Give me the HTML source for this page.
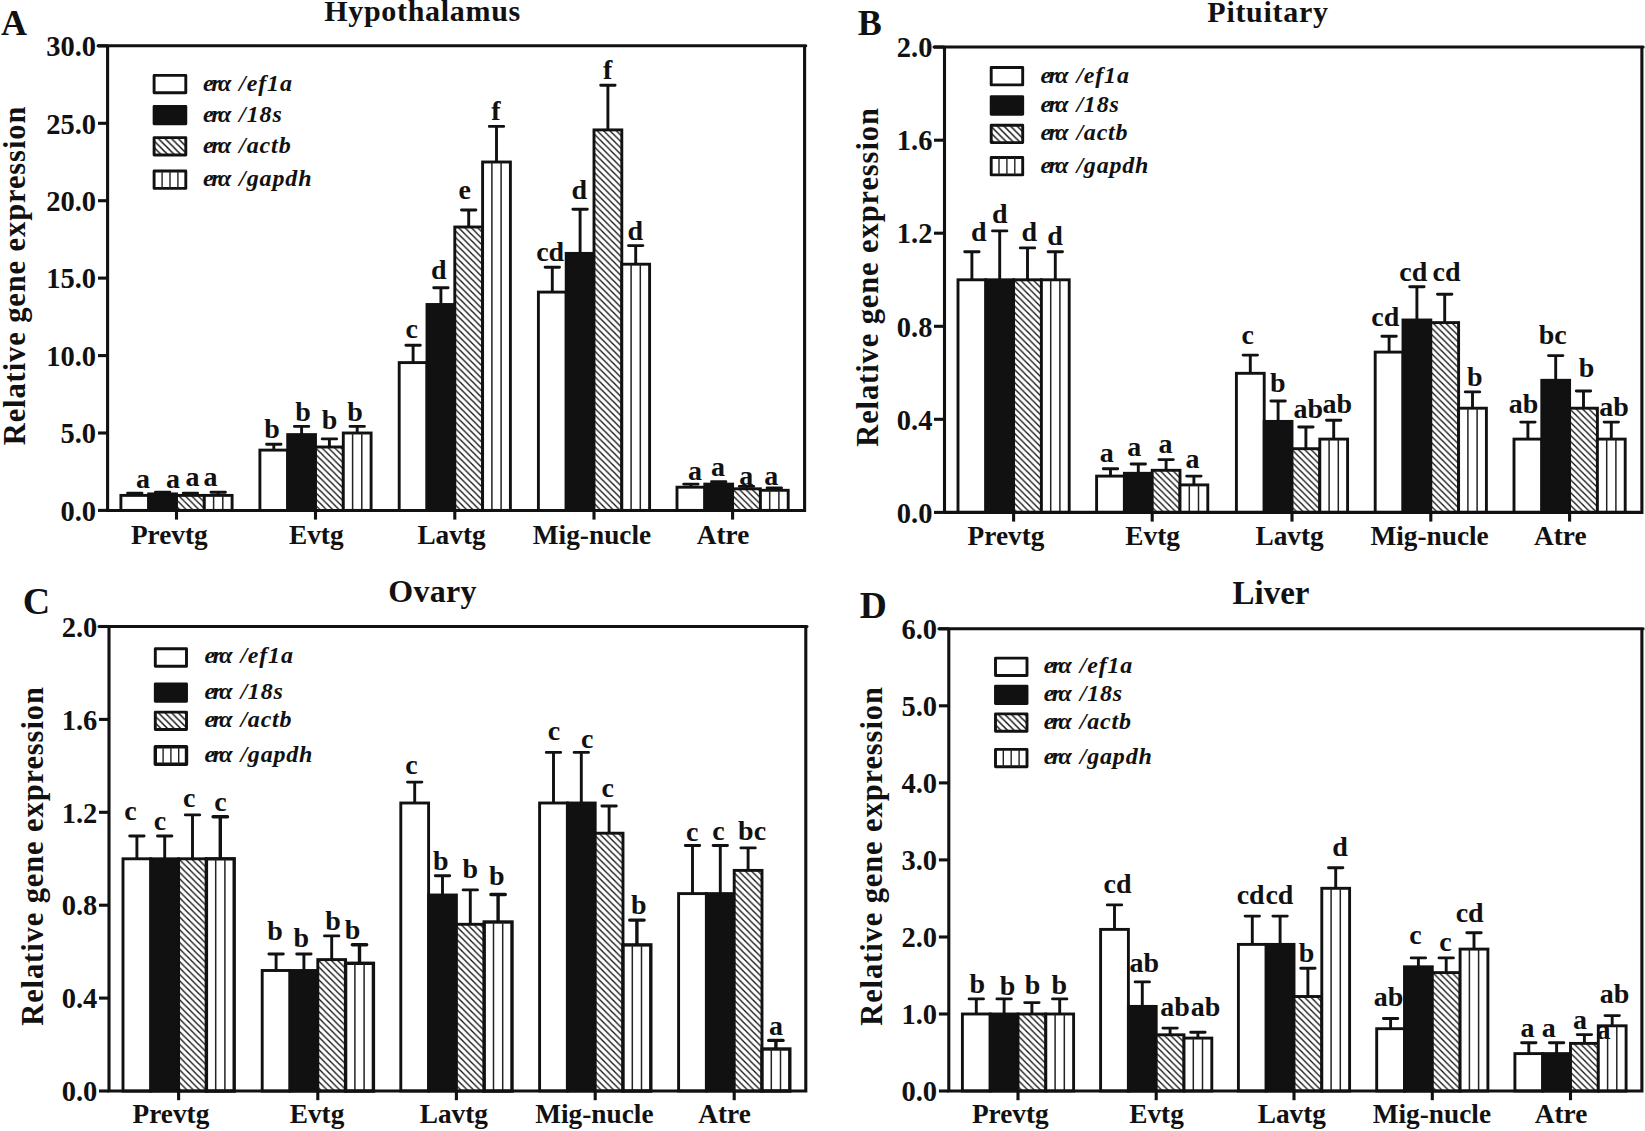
<!DOCTYPE html>
<html><head><meta charset="utf-8"><title>Relative gene expression</title>
<style>html,body{margin:0;padding:0;background:#fff}svg{display:block}</style></head>
<body>
<svg width="1645" height="1131" viewBox="0 0 1645 1131" font-family='"Liberation Serif",serif' font-weight="bold" fill="#111">
<defs>
<pattern id="hat" patternUnits="userSpaceOnUse" width="6.37" height="6.37" patternTransform="translate(1.5 0)"><rect width="6.37" height="6.37" fill="#fff"/><path d="M-6.37,-6.37 L12.74,12.74 M-6.37,0 L6.37,12.74 M0,-6.37 L12.74,6.37" stroke="#111" stroke-width="1.3" fill="none"/></pattern>
<pattern id="hatL" patternUnits="userSpaceOnUse" width="6.6" height="6.6"><rect width="6.6" height="6.6" fill="#fff"/><path d="M-6.6,-6.6 L13.2,13.2 M-6.6,0 L6.6,13.2 M0,-6.6 L13.2,6.6" stroke="#111" stroke-width="1.5" fill="none"/></pattern>
</defs>
<rect width="1645" height="1131" fill="#fff"/>
<g id="panelA">
<path d="M134.8,495.4 V493.1 M127.6,493.1 H142.0" stroke="#111" stroke-width="2.9" stroke-linecap="round" fill="none"/>
<rect x="120.9" y="495.4" width="27.8" height="15.0" fill="#fff" stroke="#111" stroke-width="2.9"/>
<path d="M162.6,493.9 V492.3 M155.4,492.3 H169.8" stroke="#111" stroke-width="2.9" stroke-linecap="round" fill="none"/>
<rect x="148.7" y="493.9" width="27.8" height="16.6" fill="#111" stroke="#111" stroke-width="2.9"/>
<path d="M190.4,495.4 V493.1 M183.2,493.1 H197.6" stroke="#111" stroke-width="2.9" stroke-linecap="round" fill="none"/>
<rect x="176.5" y="495.4" width="27.8" height="15.0" fill="url(#hat)" stroke="#111" stroke-width="2.9"/>
<path d="M218.2,495.4 V492.3 M211.0,492.3 H225.4" stroke="#111" stroke-width="2.9" stroke-linecap="round" fill="none"/>
<rect x="204.3" y="495.4" width="27.8" height="15.0" fill="#fff" stroke="#111" stroke-width="2.9"/>
<path d="M213.6,495.4 V510.4" stroke="#222" stroke-width="1.5"/>
<path d="M222.8,495.4 V510.4" stroke="#222" stroke-width="1.5"/>
<path d="M273.8,450.1 V444.3 M266.6,444.3 H281.0" stroke="#111" stroke-width="2.9" stroke-linecap="round" fill="none"/>
<rect x="259.9" y="450.1" width="27.8" height="60.4" fill="#fff" stroke="#111" stroke-width="2.9"/>
<path d="M301.6,434.6 V426.4 M294.4,426.4 H308.8" stroke="#111" stroke-width="2.9" stroke-linecap="round" fill="none"/>
<rect x="287.7" y="434.6" width="27.8" height="75.9" fill="#111" stroke="#111" stroke-width="2.9"/>
<path d="M329.4,447.0 V438.9 M322.2,438.9 H336.6" stroke="#111" stroke-width="2.9" stroke-linecap="round" fill="none"/>
<rect x="315.5" y="447.0" width="27.8" height="63.5" fill="url(#hat)" stroke="#111" stroke-width="2.9"/>
<path d="M357.2,433.0 V426.4 M350.0,426.4 H364.4" stroke="#111" stroke-width="2.9" stroke-linecap="round" fill="none"/>
<rect x="343.3" y="433.0" width="27.8" height="77.4" fill="#fff" stroke="#111" stroke-width="2.9"/>
<path d="M352.6,433.0 V510.4" stroke="#222" stroke-width="1.5"/>
<path d="M361.8,433.0 V510.4" stroke="#222" stroke-width="1.5"/>
<path d="M413.1,362.6 V345.2 M405.9,345.2 H420.3" stroke="#111" stroke-width="2.9" stroke-linecap="round" fill="none"/>
<rect x="399.2" y="362.6" width="27.8" height="147.9" fill="#fff" stroke="#111" stroke-width="2.9"/>
<path d="M440.9,304.5 V287.8 M433.7,287.8 H448.1" stroke="#111" stroke-width="2.9" stroke-linecap="round" fill="none"/>
<rect x="427.0" y="304.5" width="27.8" height="206.0" fill="#111" stroke="#111" stroke-width="2.9"/>
<path d="M468.7,227.0 V210.0 M461.5,210.0 H475.9" stroke="#111" stroke-width="2.9" stroke-linecap="round" fill="none"/>
<rect x="454.8" y="227.0" width="27.8" height="283.4" fill="url(#hat)" stroke="#111" stroke-width="2.9"/>
<path d="M496.5,162.0 V126.4 M489.3,126.4 H503.7" stroke="#111" stroke-width="2.9" stroke-linecap="round" fill="none"/>
<rect x="482.6" y="162.0" width="27.8" height="348.4" fill="#fff" stroke="#111" stroke-width="2.9"/>
<path d="M491.9,162.0 V510.4" stroke="#222" stroke-width="1.5"/>
<path d="M501.1,162.0 V510.4" stroke="#222" stroke-width="1.5"/>
<path d="M552.3,292.1 V267.3 M545.1,267.3 H559.5" stroke="#111" stroke-width="2.9" stroke-linecap="round" fill="none"/>
<rect x="538.4" y="292.1" width="27.8" height="218.4" fill="#fff" stroke="#111" stroke-width="2.9"/>
<path d="M580.1,253.4 V209.2 M572.9,209.2 H587.3" stroke="#111" stroke-width="2.9" stroke-linecap="round" fill="none"/>
<rect x="566.2" y="253.4" width="27.8" height="257.1" fill="#111" stroke="#111" stroke-width="2.9"/>
<path d="M607.9,129.9 V85.3 M600.7,85.3 H615.1" stroke="#111" stroke-width="2.9" stroke-linecap="round" fill="none"/>
<rect x="594.0" y="129.9" width="27.8" height="380.5" fill="url(#hat)" stroke="#111" stroke-width="2.9"/>
<path d="M635.7,264.2 V245.6 M628.5,245.6 H642.9" stroke="#111" stroke-width="2.9" stroke-linecap="round" fill="none"/>
<rect x="621.8" y="264.2" width="27.8" height="246.2" fill="#fff" stroke="#111" stroke-width="2.9"/>
<path d="M631.1,264.2 V510.4" stroke="#222" stroke-width="1.5"/>
<path d="M640.3,264.2 V510.4" stroke="#222" stroke-width="1.5"/>
<path d="M690.9,487.2 V484.1 M683.7,484.1 H698.1" stroke="#111" stroke-width="2.9" stroke-linecap="round" fill="none"/>
<rect x="677.0" y="487.2" width="27.8" height="23.2" fill="#fff" stroke="#111" stroke-width="2.9"/>
<path d="M718.7,484.1 V481.8 M711.5,481.8 H725.9" stroke="#111" stroke-width="2.9" stroke-linecap="round" fill="none"/>
<rect x="704.8" y="484.1" width="27.8" height="26.3" fill="#111" stroke="#111" stroke-width="2.9"/>
<path d="M746.5,488.8 V486.4 M739.3,486.4 H753.7" stroke="#111" stroke-width="2.9" stroke-linecap="round" fill="none"/>
<rect x="732.6" y="488.8" width="27.8" height="21.7" fill="url(#hat)" stroke="#111" stroke-width="2.9"/>
<path d="M774.3,490.3 V488.0 M767.1,488.0 H781.5" stroke="#111" stroke-width="2.9" stroke-linecap="round" fill="none"/>
<rect x="760.4" y="490.3" width="27.8" height="20.1" fill="#fff" stroke="#111" stroke-width="2.9"/>
<path d="M769.7,490.3 V510.4" stroke="#222" stroke-width="1.5"/>
<path d="M778.9,490.3 V510.4" stroke="#222" stroke-width="1.5"/>
<text x="143.0" y="487.5" font-size="28" text-anchor="middle">a</text>
<text x="173.0" y="488.0" font-size="28" text-anchor="middle">a</text>
<text x="192.5" y="486.0" font-size="28" text-anchor="middle">a</text>
<text x="210.5" y="486.0" font-size="28" text-anchor="middle">a</text>
<text x="272.0" y="438.0" font-size="28" text-anchor="middle">b</text>
<text x="303.0" y="421.3" font-size="28" text-anchor="middle">b</text>
<text x="329.5" y="429.3" font-size="28" text-anchor="middle">b</text>
<text x="355.0" y="421.3" font-size="28" text-anchor="middle">b</text>
<text x="411.8" y="338.2" font-size="28" text-anchor="middle">c</text>
<text x="438.7" y="278.7" font-size="28" text-anchor="middle">d</text>
<text x="464.8" y="199.3" font-size="28" text-anchor="middle">e</text>
<text x="495.8" y="119.8" font-size="28" text-anchor="middle">f</text>
<text x="550.2" y="261.2" font-size="28" text-anchor="middle">cd</text>
<text x="579.3" y="199.3" font-size="28" text-anchor="middle">d</text>
<text x="607.6" y="78.6" font-size="28" text-anchor="middle">f</text>
<text x="635.3" y="239.7" font-size="28" text-anchor="middle">d</text>
<text x="695.1" y="479.6" font-size="28" text-anchor="middle">a</text>
<text x="718.0" y="476.4" font-size="28" text-anchor="middle">a</text>
<text x="746.3" y="484.5" font-size="28" text-anchor="middle">a</text>
<text x="771.3" y="484.5" font-size="28" text-anchor="middle">a</text>
<path d="M107.6,45.85 V510.45 H804.6 V45.85" fill="none" stroke="#111" stroke-width="3.1" stroke-linejoin="miter"/>
<path d="M98.0,45.85 H805.8" fill="none" stroke="#111" stroke-width="3.0" stroke-linecap="round"/>
<path d="M98.0,510.4 H107.6" stroke="#111" stroke-width="3.1"/>
<text x="96" y="520.6" font-size="28.5" text-anchor="end">0.0</text>
<path d="M98.0,433.0 H107.6" stroke="#111" stroke-width="3.1"/>
<text x="96" y="443.2" font-size="28.5" text-anchor="end">5.0</text>
<path d="M98.0,355.6 H107.6" stroke="#111" stroke-width="3.1"/>
<text x="96" y="365.8" font-size="28.5" text-anchor="end">10.0</text>
<path d="M98.0,278.1 H107.6" stroke="#111" stroke-width="3.1"/>
<text x="96" y="288.3" font-size="28.5" text-anchor="end">15.0</text>
<path d="M98.0,200.7 H107.6" stroke="#111" stroke-width="3.1"/>
<text x="96" y="210.9" font-size="28.5" text-anchor="end">20.0</text>
<path d="M98.0,123.3 H107.6" stroke="#111" stroke-width="3.1"/>
<text x="96" y="133.5" font-size="28.5" text-anchor="end">25.0</text>
<path d="M98.0,45.9 H107.6" stroke="#111" stroke-width="3.1"/>
<text x="96" y="56.1" font-size="28.5" text-anchor="end">30.0</text>
<path d="M176.5,510.45 V519.6" stroke="#111" stroke-width="3.1"/>
<text x="169.3" y="543.6" font-size="27.3" text-anchor="middle">Prevtg</text>
<path d="M315.5,510.45 V519.6" stroke="#111" stroke-width="3.1"/>
<text x="316.3" y="543.6" font-size="27.3" text-anchor="middle">Evtg</text>
<path d="M454.8,510.45 V519.6" stroke="#111" stroke-width="3.1"/>
<text x="451.5" y="543.6" font-size="27.3" text-anchor="middle">Lavtg</text>
<path d="M594,510.45 V519.6" stroke="#111" stroke-width="3.1"/>
<text x="592" y="543.6" font-size="27.3" text-anchor="middle">Mig-nucle</text>
<path d="M732.6,510.45 V519.6" stroke="#111" stroke-width="3.1"/>
<text x="723" y="543.6" font-size="27.3" text-anchor="middle">Atre</text>
<text x="422.6" y="21.3" font-size="30" letter-spacing="0.7" text-anchor="middle" style="font-kerning:none">Hypothalamus</text>
<text x="1" y="34.7" font-size="36">A</text>
<text transform="translate(25.2,275.5) rotate(-90)" font-size="30.5" letter-spacing="0.9" text-anchor="middle">Relative gene expression</text>
<rect x="154.1" y="75.4" width="31.7" height="17.4" fill="#fff" stroke="#111" stroke-width="2.9" stroke-linejoin="round"/>
<text x="203.1" y="90.9" font-size="24" font-style="italic"><tspan letter-spacing="-2.6">erα</tspan><tspan dx="10.5" letter-spacing="0.9">/ef1a</tspan></text>
<rect x="154.1" y="106.4" width="31.7" height="17.4" fill="#111" stroke="#111" stroke-width="2.9" stroke-linejoin="round"/>
<text x="203.1" y="121.5" font-size="24" font-style="italic"><tspan letter-spacing="-2.6">erα</tspan><tspan dx="10.5" letter-spacing="0.9">/18s</tspan></text>
<rect x="154.1" y="137.6" width="31.7" height="17.4" fill="url(#hatL)" stroke="#111" stroke-width="2.9" stroke-linejoin="round"/>
<text x="203.1" y="152.6" font-size="24" font-style="italic"><tspan letter-spacing="-2.6">erα</tspan><tspan dx="10.5" letter-spacing="0.9">/actb</tspan></text>
<rect x="154.1" y="171.0" width="31.7" height="17.4" fill="#fff" stroke="#111" stroke-width="2.9" stroke-linejoin="round"/>
<path d="M162.1,171.0 v17.4" stroke="#222" stroke-width="1.4"/>
<path d="M170.0,171.0 v17.4" stroke="#222" stroke-width="1.4"/>
<path d="M177.9,171.0 v17.4" stroke="#222" stroke-width="1.4"/>
<text x="203.1" y="186.2" font-size="24" font-style="italic"><tspan letter-spacing="-2.6">erα</tspan><tspan dx="10.5" letter-spacing="0.9">/gapdh</tspan></text>
</g>
<g id="panelB">
<path d="M971.9,279.8 V251.8 M964.7,251.8 H979.1" stroke="#111" stroke-width="2.9" stroke-linecap="round" fill="none"/>
<rect x="958.0" y="279.8" width="27.8" height="232.6" fill="#fff" stroke="#111" stroke-width="2.9"/>
<path d="M999.7,279.8 V230.9 M992.5,230.9 H1006.9" stroke="#111" stroke-width="2.9" stroke-linecap="round" fill="none"/>
<rect x="985.8" y="279.8" width="27.8" height="232.6" fill="#111" stroke="#111" stroke-width="2.9"/>
<path d="M1027.5,279.8 V247.9 M1020.3,247.9 H1034.7" stroke="#111" stroke-width="2.9" stroke-linecap="round" fill="none"/>
<rect x="1013.6" y="279.8" width="27.8" height="232.6" fill="url(#hat)" stroke="#111" stroke-width="2.9"/>
<path d="M1055.3,279.8 V251.8 M1048.1,251.8 H1062.5" stroke="#111" stroke-width="2.9" stroke-linecap="round" fill="none"/>
<rect x="1041.4" y="279.8" width="27.8" height="232.6" fill="#fff" stroke="#111" stroke-width="2.9"/>
<path d="M1050.7,279.8 V512.4" stroke="#222" stroke-width="1.5"/>
<path d="M1059.9,279.8 V512.4" stroke="#222" stroke-width="1.5"/>
<path d="M1110.5,476.1 V468.7 M1103.3,468.7 H1117.7" stroke="#111" stroke-width="2.9" stroke-linecap="round" fill="none"/>
<rect x="1096.6" y="476.1" width="27.8" height="36.3" fill="#fff" stroke="#111" stroke-width="2.9"/>
<path d="M1138.3,473.3 V464.0 M1131.1,464.0 H1145.5" stroke="#111" stroke-width="2.9" stroke-linecap="round" fill="none"/>
<rect x="1124.4" y="473.3" width="27.8" height="39.1" fill="#111" stroke="#111" stroke-width="2.9"/>
<path d="M1166.1,470.3 V459.6 M1158.9,459.6 H1173.3" stroke="#111" stroke-width="2.9" stroke-linecap="round" fill="none"/>
<rect x="1152.2" y="470.3" width="27.8" height="42.1" fill="url(#hat)" stroke="#111" stroke-width="2.9"/>
<path d="M1193.9,484.9 V476.1 M1186.7,476.1 H1201.1" stroke="#111" stroke-width="2.9" stroke-linecap="round" fill="none"/>
<rect x="1180.0" y="484.9" width="27.8" height="27.5" fill="#fff" stroke="#111" stroke-width="2.9"/>
<path d="M1189.3,484.9 V512.4" stroke="#222" stroke-width="1.5"/>
<path d="M1198.5,484.9 V512.4" stroke="#222" stroke-width="1.5"/>
<path d="M1250.3,373.3 V355.1 M1243.1,355.1 H1257.5" stroke="#111" stroke-width="2.9" stroke-linecap="round" fill="none"/>
<rect x="1236.4" y="373.3" width="27.8" height="139.1" fill="#fff" stroke="#111" stroke-width="2.9"/>
<path d="M1278.1,421.4 V401.0 M1270.9,401.0 H1285.3" stroke="#111" stroke-width="2.9" stroke-linecap="round" fill="none"/>
<rect x="1264.2" y="421.4" width="27.8" height="91.0" fill="#111" stroke="#111" stroke-width="2.9"/>
<path d="M1305.9,448.7 V427.0 M1298.7,427.0 H1313.1" stroke="#111" stroke-width="2.9" stroke-linecap="round" fill="none"/>
<rect x="1292.0" y="448.7" width="27.8" height="63.7" fill="url(#hat)" stroke="#111" stroke-width="2.9"/>
<path d="M1333.7,439.1 V420.3 M1326.5,420.3 H1340.9" stroke="#111" stroke-width="2.9" stroke-linecap="round" fill="none"/>
<rect x="1319.8" y="439.1" width="27.8" height="73.3" fill="#fff" stroke="#111" stroke-width="2.9"/>
<path d="M1329.1,439.1 V512.4" stroke="#222" stroke-width="1.5"/>
<path d="M1338.3,439.1 V512.4" stroke="#222" stroke-width="1.5"/>
<path d="M1389.1,352.1 V336.3 M1381.9,336.3 H1396.3" stroke="#111" stroke-width="2.9" stroke-linecap="round" fill="none"/>
<rect x="1375.2" y="352.1" width="27.8" height="160.3" fill="#fff" stroke="#111" stroke-width="2.9"/>
<path d="M1416.9,320.0 V286.7 M1409.7,286.7 H1424.1" stroke="#111" stroke-width="2.9" stroke-linecap="round" fill="none"/>
<rect x="1403.0" y="320.0" width="27.8" height="192.4" fill="#111" stroke="#111" stroke-width="2.9"/>
<path d="M1444.7,322.6 V294.2 M1437.5,294.2 H1451.9" stroke="#111" stroke-width="2.9" stroke-linecap="round" fill="none"/>
<rect x="1430.8" y="322.6" width="27.8" height="189.8" fill="url(#hat)" stroke="#111" stroke-width="2.9"/>
<path d="M1472.5,408.2 V391.9 M1465.3,391.9 H1479.7" stroke="#111" stroke-width="2.9" stroke-linecap="round" fill="none"/>
<rect x="1458.6" y="408.2" width="27.8" height="104.2" fill="#fff" stroke="#111" stroke-width="2.9"/>
<path d="M1467.9,408.2 V512.4" stroke="#222" stroke-width="1.5"/>
<path d="M1477.1,408.2 V512.4" stroke="#222" stroke-width="1.5"/>
<path d="M1527.9,439.1 V422.1 M1520.7,422.1 H1535.1" stroke="#111" stroke-width="2.9" stroke-linecap="round" fill="none"/>
<rect x="1514.0" y="439.1" width="27.8" height="73.3" fill="#fff" stroke="#111" stroke-width="2.9"/>
<path d="M1555.7,380.3 V355.6 M1548.5,355.6 H1562.9" stroke="#111" stroke-width="2.9" stroke-linecap="round" fill="none"/>
<rect x="1541.8" y="380.3" width="27.8" height="132.1" fill="#111" stroke="#111" stroke-width="2.9"/>
<path d="M1583.5,408.2 V391.0 M1576.3,391.0 H1590.7" stroke="#111" stroke-width="2.9" stroke-linecap="round" fill="none"/>
<rect x="1569.6" y="408.2" width="27.8" height="104.2" fill="url(#hat)" stroke="#111" stroke-width="2.9"/>
<path d="M1611.3,439.1 V422.1 M1604.1,422.1 H1618.5" stroke="#111" stroke-width="2.9" stroke-linecap="round" fill="none"/>
<rect x="1597.4" y="439.1" width="27.8" height="73.3" fill="#fff" stroke="#111" stroke-width="2.9"/>
<path d="M1606.7,439.1 V512.4" stroke="#222" stroke-width="1.5"/>
<path d="M1615.9,439.1 V512.4" stroke="#222" stroke-width="1.5"/>
<text x="978.8" y="241.3" font-size="28" text-anchor="middle">d</text>
<text x="999.8" y="222.5" font-size="28" text-anchor="middle">d</text>
<text x="1029.3" y="241.3" font-size="28" text-anchor="middle">d</text>
<text x="1055.0" y="245.0" font-size="28" text-anchor="middle">d</text>
<text x="1106.8" y="461.8" font-size="28" text-anchor="middle">a</text>
<text x="1134.3" y="455.5" font-size="28" text-anchor="middle">a</text>
<text x="1165.5" y="452.5" font-size="28" text-anchor="middle">a</text>
<text x="1192.5" y="467.5" font-size="28" text-anchor="middle">a</text>
<text x="1247.8" y="344.3" font-size="28" text-anchor="middle">c</text>
<text x="1277.8" y="391.8" font-size="28" text-anchor="middle">b</text>
<text x="1308.3" y="418.0" font-size="28" text-anchor="middle">ab</text>
<text x="1337.3" y="413.0" font-size="28" text-anchor="middle">ab</text>
<text x="1385.3" y="325.5" font-size="28" text-anchor="middle">cd</text>
<text x="1413.3" y="281.3" font-size="28" text-anchor="middle">cd</text>
<text x="1446.5" y="281.3" font-size="28" text-anchor="middle">cd</text>
<text x="1474.8" y="386.0" font-size="28" text-anchor="middle">b</text>
<text x="1523.5" y="413.0" font-size="28" text-anchor="middle">ab</text>
<text x="1552.8" y="343.8" font-size="28" text-anchor="middle">bc</text>
<text x="1586.5" y="376.8" font-size="28" text-anchor="middle">b</text>
<text x="1614.0" y="415.5" font-size="28" text-anchor="middle">ab</text>
<path d="M944.5,47.1 V512.4 H1641.9 V47.1" fill="none" stroke="#111" stroke-width="3.1" stroke-linejoin="miter"/>
<path d="M934.0,47.1 H1643.1" fill="none" stroke="#111" stroke-width="3.0" stroke-linecap="round"/>
<path d="M934.0,512.4 H944.5" stroke="#111" stroke-width="3.1"/>
<text x="932.4" y="522.6" font-size="28.5" text-anchor="end">0.0</text>
<path d="M934.0,419.3 H944.5" stroke="#111" stroke-width="3.1"/>
<text x="932.4" y="429.5" font-size="28.5" text-anchor="end">0.4</text>
<path d="M934.0,326.3 H944.5" stroke="#111" stroke-width="3.1"/>
<text x="932.4" y="336.5" font-size="28.5" text-anchor="end">0.8</text>
<path d="M934.0,233.2 H944.5" stroke="#111" stroke-width="3.1"/>
<text x="932.4" y="243.4" font-size="28.5" text-anchor="end">1.2</text>
<path d="M934.0,140.2 H944.5" stroke="#111" stroke-width="3.1"/>
<text x="932.4" y="150.4" font-size="28.5" text-anchor="end">1.6</text>
<path d="M934.0,47.1 H944.5" stroke="#111" stroke-width="3.1"/>
<text x="932.4" y="57.3" font-size="28.5" text-anchor="end">2.0</text>
<path d="M1013.6,512.4 V521.6" stroke="#111" stroke-width="3.1"/>
<text x="1006" y="545.2" font-size="27.3" text-anchor="middle">Prevtg</text>
<path d="M1152.2,512.4 V521.6" stroke="#111" stroke-width="3.1"/>
<text x="1152.6" y="545.2" font-size="27.3" text-anchor="middle">Evtg</text>
<path d="M1292,512.4 V521.6" stroke="#111" stroke-width="3.1"/>
<text x="1289.6" y="545.2" font-size="27.3" text-anchor="middle">Lavtg</text>
<path d="M1430.8,512.4 V521.6" stroke="#111" stroke-width="3.1"/>
<text x="1429.6" y="545.2" font-size="27.3" text-anchor="middle">Mig-nucle</text>
<path d="M1569.6,512.4 V521.6" stroke="#111" stroke-width="3.1"/>
<text x="1560.3" y="545.2" font-size="27.3" text-anchor="middle">Atre</text>
<text x="1268" y="22.4" font-size="30" letter-spacing="0.7" text-anchor="middle" style="font-kerning:none">Pituitary</text>
<text x="857.7" y="34.9" font-size="36">B</text>
<text transform="translate(877.5,277) rotate(-90)" font-size="30.5" letter-spacing="0.9" text-anchor="middle">Relative gene expression</text>
<rect x="991.2" y="67.5" width="31.5" height="17.4" fill="#fff" stroke="#111" stroke-width="2.9" stroke-linejoin="round"/>
<text x="1040.4" y="82.5" font-size="24" font-style="italic"><tspan letter-spacing="-2.6">erα</tspan><tspan dx="10.5" letter-spacing="0.8">/ef1a</tspan></text>
<rect x="991.2" y="96.8" width="31.5" height="17.4" fill="#111" stroke="#111" stroke-width="2.9" stroke-linejoin="round"/>
<text x="1040.4" y="112" font-size="24" font-style="italic"><tspan letter-spacing="-2.6">erα</tspan><tspan dx="10.5" letter-spacing="0.8">/18s</tspan></text>
<rect x="991.2" y="125.2" width="31.5" height="17.4" fill="url(#hatL)" stroke="#111" stroke-width="2.9" stroke-linejoin="round"/>
<text x="1040.4" y="140" font-size="24" font-style="italic"><tspan letter-spacing="-2.6">erα</tspan><tspan dx="10.5" letter-spacing="0.8">/actb</tspan></text>
<rect x="991.2" y="157.5" width="31.5" height="17.4" fill="#fff" stroke="#111" stroke-width="2.9" stroke-linejoin="round"/>
<path d="M999.0,157.5 v17.4" stroke="#222" stroke-width="1.4"/>
<path d="M1006.9,157.5 v17.4" stroke="#222" stroke-width="1.4"/>
<path d="M1014.8,157.5 v17.4" stroke="#222" stroke-width="1.4"/>
<text x="1040.4" y="172.5" font-size="24" font-style="italic"><tspan letter-spacing="-2.6">erα</tspan><tspan dx="10.5" letter-spacing="0.8">/gapdh</tspan></text>
</g>
<g id="panelC">
<path d="M136.9,858.8 V836.0 M129.7,836.0 H144.1" stroke="#111" stroke-width="2.9" stroke-linecap="round" fill="none"/>
<rect x="123.0" y="858.8" width="27.8" height="232.3" fill="#fff" stroke="#111" stroke-width="2.9"/>
<path d="M164.7,858.8 V836.0 M157.5,836.0 H171.9" stroke="#111" stroke-width="2.9" stroke-linecap="round" fill="none"/>
<rect x="150.8" y="858.8" width="27.8" height="232.3" fill="#111" stroke="#111" stroke-width="2.9"/>
<path d="M192.5,858.8 V814.9 M185.3,814.9 H199.7" stroke="#111" stroke-width="2.9" stroke-linecap="round" fill="none"/>
<rect x="178.6" y="858.8" width="27.8" height="232.3" fill="url(#hat)" stroke="#111" stroke-width="2.9"/>
<path d="M220.3,858.8 V816.7 M213.1,816.7 H227.5" stroke="#111" stroke-width="3.4" stroke-linecap="round" fill="none"/>
<rect x="206.4" y="858.8" width="27.8" height="232.3" fill="#fff" stroke="#111" stroke-width="3.4"/>
<path d="M215.7,858.8 V1091.0" stroke="#222" stroke-width="1.5"/>
<path d="M224.9,858.8 V1091.0" stroke="#222" stroke-width="1.5"/>
<path d="M276.1,970.5 V954.0 M268.9,954.0 H283.3" stroke="#111" stroke-width="2.9" stroke-linecap="round" fill="none"/>
<rect x="262.2" y="970.5" width="27.8" height="120.6" fill="#fff" stroke="#111" stroke-width="2.9"/>
<path d="M303.9,970.5 V954.0 M296.7,954.0 H311.1" stroke="#111" stroke-width="2.9" stroke-linecap="round" fill="none"/>
<rect x="290.0" y="970.5" width="27.8" height="120.6" fill="#111" stroke="#111" stroke-width="2.9"/>
<path d="M331.7,959.6 V935.9 M324.5,935.9 H338.9" stroke="#111" stroke-width="2.9" stroke-linecap="round" fill="none"/>
<rect x="317.8" y="959.6" width="27.8" height="131.5" fill="url(#hat)" stroke="#111" stroke-width="2.9"/>
<path d="M359.5,963.3 V944.7 M352.3,944.7 H366.7" stroke="#111" stroke-width="3.4" stroke-linecap="round" fill="none"/>
<rect x="345.6" y="963.3" width="27.8" height="127.8" fill="#fff" stroke="#111" stroke-width="3.4"/>
<path d="M354.9,963.3 V1091.0" stroke="#222" stroke-width="1.5"/>
<path d="M364.1,963.3 V1091.0" stroke="#222" stroke-width="1.5"/>
<path d="M414.7,803.0 V782.1 M407.5,782.1 H421.9" stroke="#111" stroke-width="2.9" stroke-linecap="round" fill="none"/>
<rect x="400.8" y="803.0" width="27.8" height="288.0" fill="#fff" stroke="#111" stroke-width="2.9"/>
<path d="M442.5,895.0 V875.7 M435.3,875.7 H449.7" stroke="#111" stroke-width="2.9" stroke-linecap="round" fill="none"/>
<rect x="428.6" y="895.0" width="27.8" height="196.0" fill="#111" stroke="#111" stroke-width="2.9"/>
<path d="M470.3,924.3 V889.9 M463.1,889.9 H477.5" stroke="#111" stroke-width="2.9" stroke-linecap="round" fill="none"/>
<rect x="456.4" y="924.3" width="27.8" height="166.8" fill="url(#hat)" stroke="#111" stroke-width="2.9"/>
<path d="M498.1,922.0 V894.5 M490.9,894.5 H505.3" stroke="#111" stroke-width="3.4" stroke-linecap="round" fill="none"/>
<rect x="484.2" y="922.0" width="27.8" height="169.1" fill="#fff" stroke="#111" stroke-width="3.4"/>
<path d="M493.5,922.0 V1091.0" stroke="#222" stroke-width="1.5"/>
<path d="M502.7,922.0 V1091.0" stroke="#222" stroke-width="1.5"/>
<path d="M553.5,803.0 V752.4 M546.3,752.4 H560.7" stroke="#111" stroke-width="2.9" stroke-linecap="round" fill="none"/>
<rect x="539.6" y="803.0" width="27.8" height="288.0" fill="#fff" stroke="#111" stroke-width="2.9"/>
<path d="M581.3,803.0 V752.4 M574.1,752.4 H588.5" stroke="#111" stroke-width="2.9" stroke-linecap="round" fill="none"/>
<rect x="567.4" y="803.0" width="27.8" height="288.0" fill="#111" stroke="#111" stroke-width="2.9"/>
<path d="M609.1,833.2 V806.0 M601.9,806.0 H616.3" stroke="#111" stroke-width="2.9" stroke-linecap="round" fill="none"/>
<rect x="595.2" y="833.2" width="27.8" height="257.8" fill="url(#hat)" stroke="#111" stroke-width="2.9"/>
<path d="M636.9,944.9 V920.1 M629.7,920.1 H644.1" stroke="#111" stroke-width="3.4" stroke-linecap="round" fill="none"/>
<rect x="623.0" y="944.9" width="27.8" height="146.1" fill="#fff" stroke="#111" stroke-width="3.4"/>
<path d="M632.3,944.9 V1091.0" stroke="#222" stroke-width="1.5"/>
<path d="M641.5,944.9 V1091.0" stroke="#222" stroke-width="1.5"/>
<path d="M692.5,893.6 V845.5 M685.3,845.5 H699.7" stroke="#111" stroke-width="2.9" stroke-linecap="round" fill="none"/>
<rect x="678.6" y="893.6" width="27.8" height="197.4" fill="#fff" stroke="#111" stroke-width="2.9"/>
<path d="M720.3,893.6 V845.5 M713.1,845.5 H727.5" stroke="#111" stroke-width="2.9" stroke-linecap="round" fill="none"/>
<rect x="706.4" y="893.6" width="27.8" height="197.4" fill="#111" stroke="#111" stroke-width="2.9"/>
<path d="M748.1,870.4 V847.9 M740.9,847.9 H755.3" stroke="#111" stroke-width="2.9" stroke-linecap="round" fill="none"/>
<rect x="734.2" y="870.4" width="27.8" height="220.7" fill="url(#hat)" stroke="#111" stroke-width="2.9"/>
<path d="M775.9,1049.0 V1040.4 M768.7,1040.4 H783.1" stroke="#111" stroke-width="3.4" stroke-linecap="round" fill="none"/>
<rect x="762.0" y="1049.0" width="27.8" height="42.0" fill="#fff" stroke="#111" stroke-width="3.4"/>
<path d="M771.3,1049.0 V1091.0" stroke="#222" stroke-width="1.5"/>
<path d="M780.5,1049.0 V1091.0" stroke="#222" stroke-width="1.5"/>
<text x="130.5" y="819.8" font-size="28" text-anchor="middle">c</text>
<text x="160.0" y="829.8" font-size="28" text-anchor="middle">c</text>
<text x="189.3" y="807.3" font-size="28" text-anchor="middle">c</text>
<text x="220.5" y="811.0" font-size="28" text-anchor="middle">c</text>
<text x="275.0" y="940.4" font-size="28" text-anchor="middle">b</text>
<text x="301.3" y="947.2" font-size="28" text-anchor="middle">b</text>
<text x="333.1" y="929.6" font-size="28" text-anchor="middle">b</text>
<text x="352.6" y="938.7" font-size="28" text-anchor="middle">b</text>
<text x="411.5" y="774.1" font-size="28" text-anchor="middle">c</text>
<text x="440.7" y="869.9" font-size="28" text-anchor="middle">b</text>
<text x="470.3" y="877.9" font-size="28" text-anchor="middle">b</text>
<text x="496.7" y="884.7" font-size="28" text-anchor="middle">b</text>
<text x="553.9" y="740.4" font-size="28" text-anchor="middle">c</text>
<text x="587.1" y="747.7" font-size="28" text-anchor="middle">c</text>
<text x="607.8" y="797.1" font-size="28" text-anchor="middle">c</text>
<text x="638.8" y="914.3" font-size="28" text-anchor="middle">b</text>
<text x="692.2" y="840.7" font-size="28" text-anchor="middle">c</text>
<text x="718.4" y="839.7" font-size="28" text-anchor="middle">c</text>
<text x="752.1" y="840.2" font-size="28" text-anchor="middle">bc</text>
<text x="775.9" y="1034.8" font-size="28" text-anchor="middle">a</text>
<path d="M109.0,626.5 V1091.05 H805.8 V626.5" fill="none" stroke="#111" stroke-width="3.1" stroke-linejoin="miter"/>
<path d="M99.0,626.5 H807.0" fill="none" stroke="#111" stroke-width="3.0" stroke-linecap="round"/>
<path d="M99.0,1091.0 H109.0" stroke="#111" stroke-width="3.1"/>
<text x="97.3" y="1101.2" font-size="28.5" text-anchor="end">0.0</text>
<path d="M99.0,998.1 H109.0" stroke="#111" stroke-width="3.1"/>
<text x="97.3" y="1008.3" font-size="28.5" text-anchor="end">0.4</text>
<path d="M99.0,905.2 H109.0" stroke="#111" stroke-width="3.1"/>
<text x="97.3" y="915.4" font-size="28.5" text-anchor="end">0.8</text>
<path d="M99.0,812.3 H109.0" stroke="#111" stroke-width="3.1"/>
<text x="97.3" y="822.5" font-size="28.5" text-anchor="end">1.2</text>
<path d="M99.0,719.4 H109.0" stroke="#111" stroke-width="3.1"/>
<text x="97.3" y="729.6" font-size="28.5" text-anchor="end">1.6</text>
<path d="M99.0,626.5 H109.0" stroke="#111" stroke-width="3.1"/>
<text x="97.3" y="636.7" font-size="28.5" text-anchor="end">2.0</text>
<path d="M178.6,1091.05 V1100.2" stroke="#111" stroke-width="3.1"/>
<text x="170.9" y="1123.4" font-size="27.3" text-anchor="middle">Prevtg</text>
<path d="M317.8,1091.05 V1100.2" stroke="#111" stroke-width="3.1"/>
<text x="317" y="1123.4" font-size="27.3" text-anchor="middle">Evtg</text>
<path d="M456.4,1091.05 V1100.2" stroke="#111" stroke-width="3.1"/>
<text x="453.8" y="1123.4" font-size="27.3" text-anchor="middle">Lavtg</text>
<path d="M595.2,1091.05 V1100.2" stroke="#111" stroke-width="3.1"/>
<text x="594.4" y="1123.4" font-size="27.3" text-anchor="middle">Mig-nucle</text>
<path d="M734.2,1091.05 V1100.2" stroke="#111" stroke-width="3.1"/>
<text x="724.6" y="1123.4" font-size="27.3" text-anchor="middle">Atre</text>
<text x="432.6" y="602.1" font-size="32" letter-spacing="0.3" text-anchor="middle" style="font-kerning:none">Ovary</text>
<text x="22.7" y="614" font-size="38">C</text>
<text transform="translate(43,856) rotate(-90)" font-size="30.5" letter-spacing="0.9" text-anchor="middle">Relative gene expression</text>
<rect x="155.3" y="648.8" width="31.2" height="17.4" fill="#fff" stroke="#111" stroke-width="2.9" stroke-linejoin="round"/>
<text x="204.4" y="663" font-size="24" font-style="italic"><tspan letter-spacing="-2.6">erα</tspan><tspan dx="10.5" letter-spacing="0.8">/ef1a</tspan></text>
<rect x="155.3" y="683.9" width="31.2" height="17.4" fill="#111" stroke="#111" stroke-width="2.9" stroke-linejoin="round"/>
<text x="204.4" y="698.5" font-size="24" font-style="italic"><tspan letter-spacing="-2.6">erα</tspan><tspan dx="10.5" letter-spacing="0.8">/18s</tspan></text>
<rect x="155.3" y="712.1" width="31.2" height="17.4" fill="url(#hatL)" stroke="#111" stroke-width="2.9" stroke-linejoin="round"/>
<text x="204.4" y="726.5" font-size="24" font-style="italic"><tspan letter-spacing="-2.6">erα</tspan><tspan dx="10.5" letter-spacing="0.8">/actb</tspan></text>
<rect x="155.3" y="746.8" width="31.2" height="17.4" fill="#fff" stroke="#111" stroke-width="3.4" stroke-linejoin="round"/>
<path d="M163.1,746.8 v17.4" stroke="#222" stroke-width="1.4"/>
<path d="M170.9,746.8 v17.4" stroke="#222" stroke-width="1.4"/>
<path d="M178.7,746.8 v17.4" stroke="#222" stroke-width="1.4"/>
<text x="204.4" y="762.3" font-size="24" font-style="italic"><tspan letter-spacing="-2.6">erα</tspan><tspan dx="10.5" letter-spacing="0.8">/gapdh</tspan></text>
</g>
<g id="panelD">
<path d="M976.3,1014.0 V998.9 M969.1,998.9 H983.5" stroke="#111" stroke-width="2.9" stroke-linecap="round" fill="none"/>
<rect x="962.4" y="1014.0" width="27.8" height="77.0" fill="#fff" stroke="#111" stroke-width="2.9"/>
<path d="M1004.1,1014.0 V998.9 M996.9,998.9 H1011.3" stroke="#111" stroke-width="2.9" stroke-linecap="round" fill="none"/>
<rect x="990.2" y="1014.0" width="27.8" height="77.0" fill="#111" stroke="#111" stroke-width="2.9"/>
<path d="M1031.9,1014.0 V1002.6 M1024.7,1002.6 H1039.1" stroke="#111" stroke-width="2.9" stroke-linecap="round" fill="none"/>
<rect x="1018.0" y="1014.0" width="27.8" height="77.0" fill="url(#hat)" stroke="#111" stroke-width="2.9"/>
<path d="M1059.7,1014.0 V998.9 M1052.5,998.9 H1066.9" stroke="#111" stroke-width="2.9" stroke-linecap="round" fill="none"/>
<rect x="1045.8" y="1014.0" width="27.8" height="77.0" fill="#fff" stroke="#111" stroke-width="2.9"/>
<path d="M1055.1,1014.0 V1091.0" stroke="#222" stroke-width="1.5"/>
<path d="M1064.3,1014.0 V1091.0" stroke="#222" stroke-width="1.5"/>
<path d="M1114.5,929.4 V904.9 M1107.3,904.9 H1121.7" stroke="#111" stroke-width="2.9" stroke-linecap="round" fill="none"/>
<rect x="1100.6" y="929.4" width="27.8" height="161.6" fill="#fff" stroke="#111" stroke-width="2.9"/>
<path d="M1142.3,1006.4 V981.9 M1135.1,981.9 H1149.5" stroke="#111" stroke-width="2.9" stroke-linecap="round" fill="none"/>
<rect x="1128.4" y="1006.4" width="27.8" height="84.7" fill="#111" stroke="#111" stroke-width="2.9"/>
<path d="M1170.1,1034.8 V1028.1 M1162.9,1028.1 H1177.3" stroke="#111" stroke-width="2.9" stroke-linecap="round" fill="none"/>
<rect x="1156.2" y="1034.8" width="27.8" height="56.2" fill="url(#hat)" stroke="#111" stroke-width="2.9"/>
<path d="M1197.9,1038.1 V1032.3 M1190.7,1032.3 H1205.1" stroke="#111" stroke-width="2.9" stroke-linecap="round" fill="none"/>
<rect x="1184.0" y="1038.1" width="27.8" height="52.9" fill="#fff" stroke="#111" stroke-width="2.9"/>
<path d="M1193.3,1038.1 V1091.0" stroke="#222" stroke-width="1.5"/>
<path d="M1202.5,1038.1 V1091.0" stroke="#222" stroke-width="1.5"/>
<path d="M1252.3,944.4 V916.1 M1245.1,916.1 H1259.5" stroke="#111" stroke-width="2.9" stroke-linecap="round" fill="none"/>
<rect x="1238.4" y="944.4" width="27.8" height="146.6" fill="#fff" stroke="#111" stroke-width="2.9"/>
<path d="M1280.1,944.4 V916.1 M1272.9,916.1 H1287.3" stroke="#111" stroke-width="2.9" stroke-linecap="round" fill="none"/>
<rect x="1266.2" y="944.4" width="27.8" height="146.6" fill="#111" stroke="#111" stroke-width="2.9"/>
<path d="M1307.9,996.5 V968.2 M1300.7,968.2 H1315.1" stroke="#111" stroke-width="2.9" stroke-linecap="round" fill="none"/>
<rect x="1294.0" y="996.5" width="27.8" height="94.5" fill="url(#hat)" stroke="#111" stroke-width="2.9"/>
<path d="M1335.7,888.3 V867.8 M1328.5,867.8 H1342.9" stroke="#111" stroke-width="2.9" stroke-linecap="round" fill="none"/>
<rect x="1321.8" y="888.3" width="27.8" height="202.8" fill="#fff" stroke="#111" stroke-width="2.9"/>
<path d="M1331.1,888.3 V1091.0" stroke="#222" stroke-width="1.5"/>
<path d="M1340.3,888.3 V1091.0" stroke="#222" stroke-width="1.5"/>
<path d="M1390.6,1028.7 V1018.5 M1383.4,1018.5 H1397.8" stroke="#111" stroke-width="2.9" stroke-linecap="round" fill="none"/>
<rect x="1376.7" y="1028.7" width="27.8" height="62.3" fill="#fff" stroke="#111" stroke-width="2.9"/>
<path d="M1418.4,966.8 V957.9 M1411.2,957.9 H1425.6" stroke="#111" stroke-width="2.9" stroke-linecap="round" fill="none"/>
<rect x="1404.5" y="966.8" width="27.8" height="124.3" fill="#111" stroke="#111" stroke-width="2.9"/>
<path d="M1446.2,972.6 V957.9 M1439.0,957.9 H1453.4" stroke="#111" stroke-width="2.9" stroke-linecap="round" fill="none"/>
<rect x="1432.3" y="972.6" width="27.8" height="118.5" fill="url(#hat)" stroke="#111" stroke-width="2.9"/>
<path d="M1474.0,949.1 V932.8 M1466.8,932.8 H1481.2" stroke="#111" stroke-width="2.9" stroke-linecap="round" fill="none"/>
<rect x="1460.1" y="949.1" width="27.8" height="141.9" fill="#fff" stroke="#111" stroke-width="2.9"/>
<path d="M1469.4,949.1 V1091.0" stroke="#222" stroke-width="1.5"/>
<path d="M1478.6,949.1 V1091.0" stroke="#222" stroke-width="1.5"/>
<path d="M1528.8,1053.6 V1042.8 M1521.6,1042.8 H1536.0" stroke="#111" stroke-width="2.9" stroke-linecap="round" fill="none"/>
<rect x="1514.9" y="1053.6" width="27.8" height="37.4" fill="#fff" stroke="#111" stroke-width="2.9"/>
<path d="M1556.6,1053.6 V1042.8 M1549.4,1042.8 H1563.8" stroke="#111" stroke-width="2.9" stroke-linecap="round" fill="none"/>
<rect x="1542.7" y="1053.6" width="27.8" height="37.4" fill="#111" stroke="#111" stroke-width="2.9"/>
<path d="M1584.4,1043.4 V1034.6 M1577.2,1034.6 H1591.6" stroke="#111" stroke-width="2.9" stroke-linecap="round" fill="none"/>
<rect x="1570.5" y="1043.4" width="27.8" height="47.7" fill="url(#hat)" stroke="#111" stroke-width="2.9"/>
<path d="M1612.2,1025.8 V1015.6 M1605.0,1015.6 H1619.4" stroke="#111" stroke-width="2.9" stroke-linecap="round" fill="none"/>
<rect x="1598.3" y="1025.8" width="27.8" height="65.3" fill="#fff" stroke="#111" stroke-width="2.9"/>
<path d="M1607.6,1025.8 V1091.0" stroke="#222" stroke-width="1.5"/>
<path d="M1616.8,1025.8 V1091.0" stroke="#222" stroke-width="1.5"/>
<text x="977.3" y="992.8" font-size="28" text-anchor="middle">b</text>
<text x="1007.5" y="995.3" font-size="28" text-anchor="middle">b</text>
<text x="1032.5" y="993.5" font-size="28" text-anchor="middle">b</text>
<text x="1059.3" y="993.5" font-size="28" text-anchor="middle">b</text>
<text x="1117.5" y="893.3" font-size="28" text-anchor="middle">cd</text>
<text x="1144.3" y="972.3" font-size="28" text-anchor="middle">ab</text>
<text x="1175.0" y="1016.0" font-size="28" text-anchor="middle">ab</text>
<text x="1205.5" y="1016.0" font-size="28" text-anchor="middle">ab</text>
<text x="1250.7" y="903.9" font-size="28" text-anchor="middle">cd</text>
<text x="1279.4" y="903.9" font-size="28" text-anchor="middle">cd</text>
<text x="1306.6" y="961.9" font-size="28" text-anchor="middle">b</text>
<text x="1340.0" y="855.6" font-size="28" text-anchor="middle">d</text>
<text x="1388.6" y="1005.8" font-size="28" text-anchor="middle">ab</text>
<text x="1415.5" y="944.3" font-size="28" text-anchor="middle">c</text>
<text x="1445.4" y="951.3" font-size="28" text-anchor="middle">c</text>
<text x="1469.7" y="921.5" font-size="28" text-anchor="middle">cd</text>
<text x="1527.6" y="1036.5" font-size="28" text-anchor="middle">a</text>
<text x="1548.7" y="1036.5" font-size="28" text-anchor="middle">a</text>
<text x="1580.0" y="1029.2" font-size="28" text-anchor="middle">a</text>
<text x="1614.6" y="1002.9" font-size="28" text-anchor="middle">ab</text>
<text x="1603.4" y="1038.6" font-size="28" text-anchor="middle">a</text>
<path d="M948.8,628.8 V1091.05 H1641.9 V628.8" fill="none" stroke="#111" stroke-width="3.1" stroke-linejoin="miter"/>
<path d="M938.9,628.8 H1643.1" fill="none" stroke="#111" stroke-width="3.0" stroke-linecap="round"/>
<path d="M938.9,1091.0 H948.8" stroke="#111" stroke-width="3.1"/>
<text x="937.1" y="1101.2" font-size="28.5" text-anchor="end">0.0</text>
<path d="M938.9,1014.0 H948.8" stroke="#111" stroke-width="3.1"/>
<text x="937.1" y="1024.2" font-size="28.5" text-anchor="end">1.0</text>
<path d="M938.9,937.0 H948.8" stroke="#111" stroke-width="3.1"/>
<text x="937.1" y="947.2" font-size="28.5" text-anchor="end">2.0</text>
<path d="M938.9,859.9 H948.8" stroke="#111" stroke-width="3.1"/>
<text x="937.1" y="870.1" font-size="28.5" text-anchor="end">3.0</text>
<path d="M938.9,782.9 H948.8" stroke="#111" stroke-width="3.1"/>
<text x="937.1" y="793.1" font-size="28.5" text-anchor="end">4.0</text>
<path d="M938.9,705.8 H948.8" stroke="#111" stroke-width="3.1"/>
<text x="937.1" y="716.0" font-size="28.5" text-anchor="end">5.0</text>
<path d="M938.9,628.8 H948.8" stroke="#111" stroke-width="3.1"/>
<text x="937.1" y="639.0" font-size="28.5" text-anchor="end">6.0</text>
<path d="M1018,1091.05 V1100.2" stroke="#111" stroke-width="3.1"/>
<text x="1010.3" y="1123.4" font-size="27.3" text-anchor="middle">Prevtg</text>
<path d="M1156.2,1091.05 V1100.2" stroke="#111" stroke-width="3.1"/>
<text x="1156.5" y="1123.4" font-size="27.3" text-anchor="middle">Evtg</text>
<path d="M1294,1091.05 V1100.2" stroke="#111" stroke-width="3.1"/>
<text x="1291.8" y="1123.4" font-size="27.3" text-anchor="middle">Lavtg</text>
<path d="M1432.3,1091.05 V1100.2" stroke="#111" stroke-width="3.1"/>
<text x="1431.9" y="1123.4" font-size="27.3" text-anchor="middle">Mig-nucle</text>
<path d="M1570.5,1091.05 V1100.2" stroke="#111" stroke-width="3.1"/>
<text x="1561.1" y="1123.4" font-size="27.3" text-anchor="middle">Atre</text>
<text x="1271" y="604" font-size="33" letter-spacing="0" text-anchor="middle" style="font-kerning:none">Liver</text>
<text x="859.8" y="618" font-size="37.5">D</text>
<text transform="translate(882.3,856) rotate(-90)" font-size="30.5" letter-spacing="0.9" text-anchor="middle">Relative gene expression</text>
<rect x="995.5" y="658.1" width="31.5" height="17.4" fill="#fff" stroke="#111" stroke-width="2.9" stroke-linejoin="round"/>
<text x="1043.8" y="673.1" font-size="24" font-style="italic"><tspan letter-spacing="-2.6">erα</tspan><tspan dx="10.5" letter-spacing="0.8">/ef1a</tspan></text>
<rect x="995.5" y="686.1" width="31.5" height="17.4" fill="#111" stroke="#111" stroke-width="2.9" stroke-linejoin="round"/>
<text x="1043.8" y="701.1" font-size="24" font-style="italic"><tspan letter-spacing="-2.6">erα</tspan><tspan dx="10.5" letter-spacing="0.8">/18s</tspan></text>
<rect x="995.5" y="713.9" width="31.5" height="17.4" fill="url(#hatL)" stroke="#111" stroke-width="2.9" stroke-linejoin="round"/>
<text x="1043.8" y="728.6" font-size="24" font-style="italic"><tspan letter-spacing="-2.6">erα</tspan><tspan dx="10.5" letter-spacing="0.8">/actb</tspan></text>
<rect x="995.5" y="749.4" width="31.5" height="17.4" fill="#fff" stroke="#111" stroke-width="2.9" stroke-linejoin="round"/>
<path d="M1003.3,749.4 v17.4" stroke="#222" stroke-width="1.4"/>
<path d="M1011.2,749.4 v17.4" stroke="#222" stroke-width="1.4"/>
<path d="M1019.1,749.4 v17.4" stroke="#222" stroke-width="1.4"/>
<text x="1043.8" y="764.3" font-size="24" font-style="italic"><tspan letter-spacing="-2.6">erα</tspan><tspan dx="10.5" letter-spacing="0.8">/gapdh</tspan></text>
</g>
</svg>
</body></html>
